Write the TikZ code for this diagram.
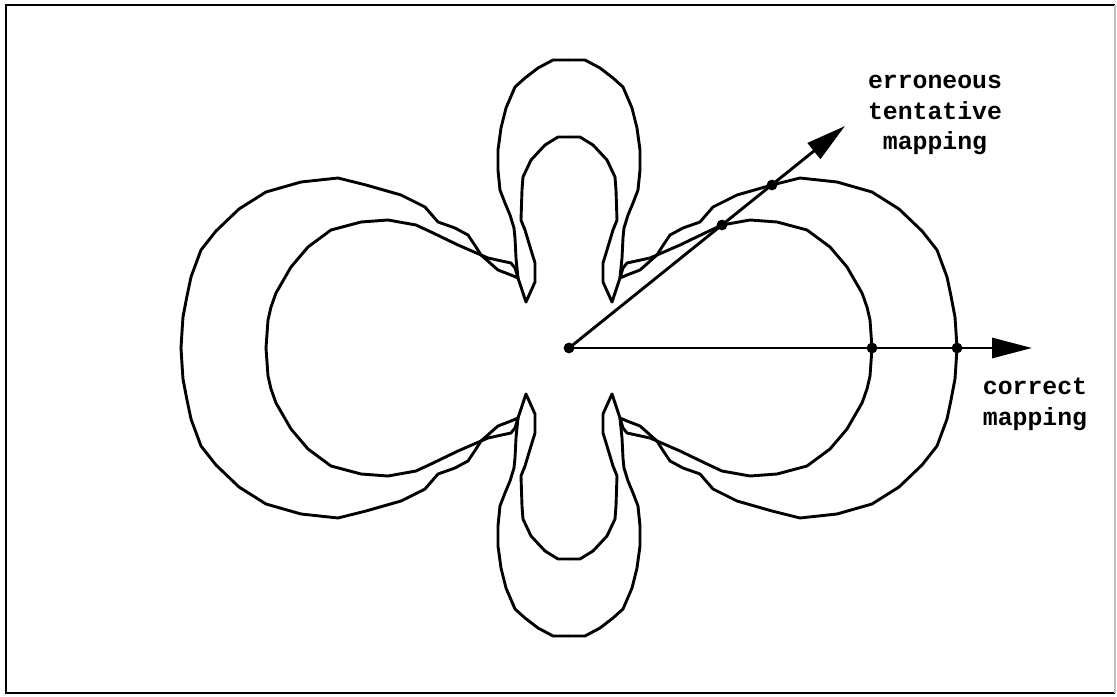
\documentclass[tikz,border=0pt]{standalone}
\usepackage{fontspec}
\setmonofont{Liberation Mono}
\usepackage{tikz}
\usetikzlibrary{arrows.meta}
\definecolor{inkBlack}{RGB}{0,0,0}
\definecolor{fadedEdge}{RGB}{190,190,190}

\begin{document}
\begin{tikzpicture}[
    x=0.5pt,
    y=0.5pt,
    frame/.style={
        inkBlack,
        line width=1pt
    },
    lobe/.style={
        inkBlack,
        line width=1.45pt,
        line join=round,
        line cap=round
    },
    mapping arrow/.style={
        inkBlack,
        line width=1.45pt,
        -{Triangle[length=20pt,width=10pt]}
    },
    crossing/.style={
        circle,
        fill=inkBlack,
        inner sep=0pt,
        minimum size=5.4pt
    },
    label text/.style={
        inkBlack,
        font=\fontsize{12.4}{15.25}\selectfont\ttfamily\bfseries,
        align=center,
        inner sep=0pt
    }
]

\useasboundingbox (-569,-348) rectangle (548,348);

%------------------------------------------------
% Frame
%------------------------------------------------
\draw[frame] (546,343) -- (-563,343) -- (-563,-345) -- (546,-345);
\draw[fadedEdge,line width=0.6pt] (546,343) -- (546,-345);

%------------------------------------------------
% Two four-lobed contours
% one quadrant each, mirrored into the others
%------------------------------------------------
\foreach \sx/\sy in {1/1,-1/1,1/-1,-1/-1}{
    \begin{scope}[xscale=\sx,yscale=\sy]
        % outer side lobe -> tip -> inner top lobe
        \draw[lobe] plot coordinates {
            (388,0) (387,16) (386,31) (382,52) (378,71) (368,98)
            (353,117) (330,139) (303,156) (268,166) (231,170) (203,163)
            (168,153) (144,141) (131,126) (114,120) (101,113) (93,101)
            (88,93) (81,90) (58,85) (54,80) (51,70) (43,46)
            (34,66) (34,85) (38,98) (44,118) (48,128) (47,158)
            (46,171) (38,188) (24,203) (11,211) (0,211)
        };
        % inner side lobe -> outer top lobe
        \draw[lobe] plot coordinates {
            (303,0) (302,14) (301,28) (298,41) (293,55) (278,81)
            (261,101) (238,118) (208,126) (181,128) (153,123) (138,116)
            (111,103) (88,93) (71,78) (58,73) (51,70) (53,90)
            (54,110) (55,120) (59,133) (64,145) (69,158) (71,178)
            (71,198) (68,220) (63,240) (54,261) (44,270) (31,280)
            (16,288) (0,288)
        };
    \end{scope}
}

%------------------------------------------------
% Mappings
%------------------------------------------------
\node[crossing] (origin) at (0,0) {};
\coordinate (correctEnd) at (463,0);
\coordinate (wrongEnd) at (276,222);

\draw[mapping arrow] (origin.center) -- (correctEnd);
\draw[mapping arrow] (origin.center) -- (wrongEnd);

% hits on the two contours
\node[crossing] (innerHit) at (303,0) {};
\node[crossing] (outerHit) at (388,0) {};
\node[crossing] (innerWrong) at (153,123) {};
\node[crossing] (outerWrong) at (203,163) {};

%------------------------------------------------
% Labels (base = last line)
%------------------------------------------------
\node[label text,anchor=base] (wrongLabel) at (366,198)
    {erroneous\\tentative\\mapping};

\node[label text,anchor=base] (correctLabel) at (466,-77)
    {correct\\mapping};

\end{tikzpicture}
\end{document}
